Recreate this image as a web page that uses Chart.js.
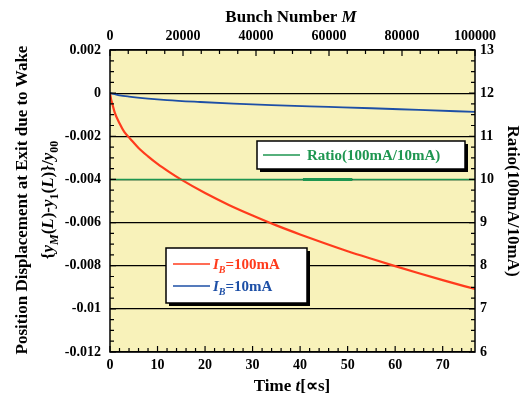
<!DOCTYPE html>
<html>
<head>
<meta charset="utf-8">
<script src="https://cdn.jsdelivr.net/npm/chart.js@4"></script>
<style>body{margin:0;background:#fff}</style>
</head>
<body>
<canvas id="chart" width="527" height="396"></canvas>
<script>
// values
const timeRed = [0, 0.25, 0.5, 1, 2, 3, 4.2, 6, 8, 10, 12.5, 15, 20, 25, 30, 35, 40, 45, 50, 55, 60, 65, 70, 76.8];
const disp100mA = [0, -0.0003, -0.0005, -0.0009, -0.0014, -0.0018, -0.0021, -0.00254, -0.00293, -0.00328, -0.00366, -0.00401, -0.00463, -0.00518, -0.00567, -0.00613, -0.00655, -0.00695, -0.00733, -0.00768, -0.00802, -0.00835, -0.00867, -0.00908];

const timeBlue = [0, 1, 2, 4, 8, 12, 19, 26, 34, 46, 55, 65, 76.8];
const disp10mA = [0, -0.00005, -0.0001, -0.00016, -0.00025, -0.00032, -0.00041, -0.00049, -0.00056, -0.00064, -0.0007, -0.00078, -0.00087];

const ratioTime = [0, 40.6, 51, 76.8];
const ratioValue = [10, 10, 10, 10];

const timeTicks = [0, 10, 20, 30, 40, 50, 60, 70];
const bunchTicks = [0, 20000, 40000, 60000, 80000, 100000];
const dispTicks = [0.002, 0, -0.002, -0.004, -0.006, -0.008, -0.01, -0.012];
const ratioTicks = [6, 7, 8, 9, 10, 11, 12, 13];

const FONT = '"Liberation Serif", "Times New Roman", serif';
const RED = '#ff3b1c';
const BLUE = '#1d4fa6';
const GREEN = '#1e9650';

function toPoints(xs, ys) {
    return xs.map((x, i) => ({ x: x, y: ys[i] }));
}

function fontFor(p, size) {
    const s = p.sub ? Math.round(size * 0.68) : size;
    return (p.it ? 'italic ' : '') + 'bold ' + s + 'px ' + FONT;
}

// draw a line of text with italic parts and subscripts
function richText(ctx, parts, x, y, size, align) {
    let w = 0;
    parts.forEach(p => {
        ctx.font = fontFor(p, size);
        p.w = ctx.measureText(p.t).width;
        w += p.w;
    });
    let cx = align === 'left' ? x : x - w / 2;
    ctx.textAlign = 'left';
    ctx.textBaseline = 'alphabetic';
    parts.forEach(p => {
        ctx.font = fontFor(p, size);
        ctx.fillStyle = p.c || '#000';
        ctx.fillText(p.t, cx, y + (p.sub ? size * 0.28 : 0));
        cx += p.w;
    });
}

function legendBox(ctx, x, y, w, h) {
    ctx.fillStyle = '#000';
    ctx.fillRect(x + 3, y + 3, w, h);
    ctx.fillStyle = '#fff';
    ctx.fillRect(x, y, w, h);
    ctx.strokeStyle = '#000';
    ctx.lineWidth = 1.5;
    ctx.strokeRect(x, y, w, h);
}

function sampleLine(ctx, x1, x2, y, color) {
    ctx.strokeStyle = color;
    ctx.lineWidth = 1.3;
    ctx.beginPath();
    ctx.moveTo(x1, y);
    ctx.lineTo(x2, y);
    ctx.stroke();
}

const decorPlugin = {
    id: 'decor',
    beforeDraw(chart) {
        const a = chart.chartArea;
        const ctx = chart.ctx;
        ctx.save();
        ctx.fillStyle = '#f8f2ba';
        ctx.fillRect(a.left, a.top, a.right - a.left, a.bottom - a.top);
        ctx.restore();
    },
    afterDraw(chart) {
        const a = chart.chartArea;
        const ctx = chart.ctx;
        const s = chart.scales;
        ctx.save();

        // inward tick marks
        ctx.strokeStyle = '#000';
        ctx.lineWidth = 1.2;
        ctx.beginPath();
        for (let v = 0; v <= 76.8; v += 2) {
            const px = s.x.getPixelForValue(v);
            const len = v % 10 === 0 ? 6 : 4;
            ctx.moveTo(px, a.bottom);
            ctx.lineTo(px, a.bottom - len);
        }
        for (let v = 0; v <= 100000; v += 5000) {
            const px = s.x2.getPixelForValue(v);
            const len = v % 20000 === 0 ? 6 : 4;
            ctx.moveTo(px, a.top);
            ctx.lineTo(px, a.top + len);
        }
        for (let k = 0; k <= 28; k++) {
            const py = s.y.getPixelForValue(0.002 - k * 0.0005);
            const len = k % 4 === 0 ? 6 : 4;
            ctx.moveTo(a.left, py);
            ctx.lineTo(a.left + len, py);
            const py2 = s.y2.getPixelForValue(6 + k * 0.25);
            ctx.moveTo(a.right, py2);
            ctx.lineTo(a.right - len, py2);
        }
        ctx.stroke();

        // plot frame
        ctx.lineWidth = 1.5;
        ctx.strokeRect(a.left, a.top, a.right - a.left, a.bottom - a.top);

        // axis titles
        richText(ctx, [{ t: 'Bunch Number ' }, { t: 'M', it: true }], 291, 22, 17);
        richText(ctx, [{ t: 'Time ' }, { t: 't', it: true }, { t: '[\u221Ds]' }], 292, 391, 17);

        ctx.save();
        ctx.translate(508, 201);
        ctx.rotate(Math.PI / 2);
        richText(ctx, [{ t: 'Ratio(100mA/10mA)' }], 0, 0, 17);
        ctx.restore();

        ctx.save();
        ctx.translate(27, 200);
        ctx.rotate(-Math.PI / 2);
        richText(ctx, [{ t: 'Position Displacement at Exit due to Wake' }], 0, 0, 17);
        ctx.restore();

        ctx.save();
        ctx.translate(53, 200);
        ctx.rotate(-Math.PI / 2);
        richText(ctx, [
            { t: '{' }, { t: 'y', it: true }, { t: 'M', it: true, sub: true },
            { t: '(' }, { t: 'L', it: true }, { t: ')-' },
            { t: 'y', it: true }, { t: '1', sub: true },
            { t: '(' }, { t: 'L', it: true }, { t: ')}/' },
            { t: 'y', it: true }, { t: '00', sub: true }
        ], 0, 0, 17);
        ctx.restore();

        // legends
        legendBox(ctx, 257, 141, 208, 28);
        sampleLine(ctx, 263, 300, 155, GREEN);
        richText(ctx, [{ t: 'Ratio(100mA/10mA)', c: GREEN }], 307, 160, 15, 'left');

        legendBox(ctx, 166, 248, 141, 55);
        sampleLine(ctx, 173, 210, 264, RED);
        richText(ctx, [{ t: 'I', it: true, c: RED }, { t: 'B', it: true, sub: true, c: RED }, { t: '=100mA', c: RED }], 213, 269, 15, 'left');
        sampleLine(ctx, 173, 210, 286, BLUE);
        richText(ctx, [{ t: 'I', it: true, c: BLUE }, { t: 'B', it: true, sub: true, c: BLUE }, { t: '=10mA', c: BLUE }], 213, 291, 15, 'left');

        ctx.restore();
    }
};

const tickFont = { family: FONT, size: 14, weight: 'bold' };

new Chart(document.getElementById('chart'), {
    type: 'line',
    data: {
        datasets: [
            {
                label: 'Ratio(100mA/10mA)',
                data: toPoints(ratioTime, ratioValue),
                yAxisID: 'y2',
                borderColor: GREEN,
                borderWidth: 1.6,
                segment: { borderWidth: c => c.p0DataIndex === 1 ? 3 : 1.6 },
                pointRadius: 0
            },
            {
                label: 'IB=10mA',
                data: toPoints(timeBlue, disp10mA),
                yAxisID: 'y',
                borderColor: BLUE,
                borderWidth: 1.8,
                pointRadius: 0,
                cubicInterpolationMode: 'monotone'
            },
            {
                label: 'IB=100mA',
                data: toPoints(timeRed, disp100mA),
                yAxisID: 'y',
                borderColor: RED,
                borderWidth: 2.2,
                pointRadius: 0,
                cubicInterpolationMode: 'monotone'
            }
        ]
    },
    options: {
        responsive: false,
        animation: false,
        layout: { padding: 0 },
        plugins: { legend: { display: false }, tooltip: { enabled: false } },
        scales: {
            x: {
                type: 'linear',
                position: 'bottom',
                min: 0,
                max: 76.8,
                afterBuildTicks: sc => { sc.ticks = timeTicks.map(v => ({ value: v })); },
                afterFit: sc => { sc.height = 44; },
                grid: { display: false, drawTicks: false },
                border: { display: false },
                ticks: { font: tickFont, color: '#000', padding: 5, maxRotation: 0 }
            },
            x2: {
                type: 'linear',
                position: 'top',
                min: 0,
                max: 100000,
                afterBuildTicks: sc => { sc.ticks = bunchTicks.map(v => ({ value: v })); },
                afterFit: sc => { sc.height = 50; },
                grid: { display: false, drawTicks: false },
                border: { display: false },
                ticks: { font: tickFont, color: '#000', padding: 5, maxRotation: 0, callback: v => String(v) }
            },
            y: {
                type: 'linear',
                position: 'left',
                min: -0.012,
                max: 0.002,
                afterBuildTicks: sc => { sc.ticks = dispTicks.map(v => ({ value: v })); },
                afterFit: sc => { sc.width = 110; },
                grid: { color: '#000', lineWidth: 1.2, drawTicks: false },
                border: { display: false },
                ticks: { font: tickFont, color: '#000', padding: 9, callback: v => String(v) }
            },
            y2: {
                type: 'linear',
                position: 'right',
                min: 6,
                max: 13,
                afterBuildTicks: sc => { sc.ticks = ratioTicks.map(v => ({ value: v })); },
                afterFit: sc => { sc.width = 52; },
                grid: { display: false, drawTicks: false },
                border: { display: false },
                ticks: { font: tickFont, color: '#000', padding: 5 }
            }
        }
    },
    plugins: [decorPlugin]
});
</script>
</body>
</html>
